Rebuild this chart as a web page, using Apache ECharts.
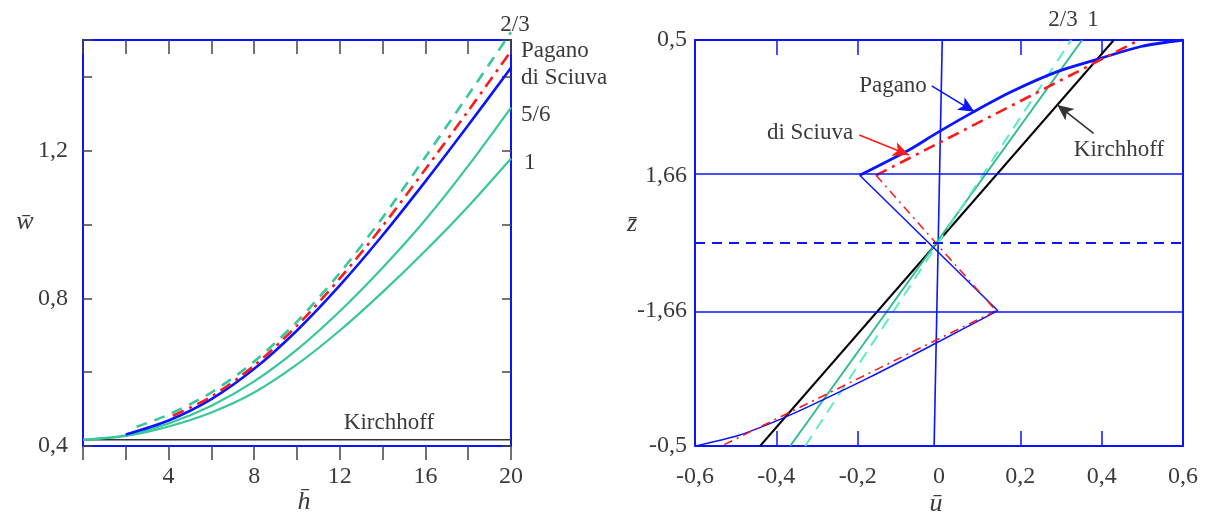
<!DOCTYPE html>
<html>
<head>
<meta charset="utf-8">
<script src="https://cdn.jsdelivr.net/npm/echarts@6/dist/echarts.min.js"></script>
<style>
html,body{margin:0;padding:0;background:#fff;}
#chart{width:1205px;height:517px;}
</style>
</head>
<body>
<div id="chart"></div>
<script>
// ---------- LEFT CHART DATA (h̄ vs w̄) ----------
const leftXTicks = [4, 8, 12, 16, 20];
const leftYTicks = [0.4, 0.8, 1.2];

const hKirch = [0, 20];
const wKirch = [0.417, 0.417];

const hTeal = [0, 2, 4, 6, 8, 10, 12, 14, 16, 18, 20];
const wOne = [0.417, 0.427, 0.453, 0.491, 0.545, 0.621, 0.713, 0.817, 0.929, 1.049, 1.179];
const wFiveSixth = [0.417, 0.429, 0.461, 0.509, 0.575, 0.661, 0.765, 0.883, 1.013, 1.159, 1.317];

const hPagano = [2, 4, 6, 8, 10, 12, 14, 16, 18, 20];
const wPagano = [0.431, 0.469, 0.527, 0.609, 0.713, 0.835, 0.971, 1.117, 1.269, 1.425];

const hSciuva = [4.2, 6, 8, 10, 12, 14, 16, 18, 20];
const wSciuva = [0.482, 0.534, 0.618, 0.726, 0.854, 0.996, 1.150, 1.308, 1.470];

const hTwoThird = [2.5, 4, 6, 8, 10, 12, 14, 16, 18, 20];
const wTwoThird = [0.452, 0.485, 0.545, 0.629, 0.737, 0.869, 1.019, 1.183, 1.351, 1.521];

// ---------- RIGHT CHART DATA (ū vs z̄) ----------
const rightXTicks = [-0.6, -0.4, -0.2, 0, 0.2, 0.4, 0.6];
const rightXInnerTicks = [-0.4, -0.2, 0.2, 0.4];
const rightYTickValues = [0.5, 1 / 6, -1 / 6, -0.5];
const rightYTickLabels = ['0,5', '1,66', '-1,66', '-0,5'];
const interfaceZ = [1 / 6, -1 / 6];
const midplaneZ = 0;

const uZeroLine = [0.008, -0.012];
const zZeroLine = [0.5, -0.5];

const uKirchR = [-0.44, 0.43];
const zKirchR = [-0.5, 0.5];

const uOneR = [-0.366, 0.352];
const zOneR = [-0.5, 0.5];

const uTwoThirdR = [-0.329, 0.325];
const zTwoThirdR = [-0.5, 0.5];

const uPaganoTop = [-0.195, -0.074, -0.007, 0.085, 0.179, 0.291, 0.385, 0.497, 0.6];
const zPaganoTop = [0.1667, 0.229, 0.270, 0.323, 0.373, 0.422, 0.451, 0.484, 0.5];
const uPaganoMid = [-0.195, 0.145];
const zPaganoMid = [0.1667, -0.1667];
const uPaganoBot = [0.145, -0.008, -0.175, -0.287, -0.385, -0.49, -0.6];
const zPaganoBot = [-0.1667, -0.247, -0.333, -0.387, -0.432, -0.473, -0.5];

const uSciuvaTop = [-0.155, 0.492];
const zSciuvaTop = [0.1667, 0.5];
const uSciuvaMid = [-0.155, 0.14];
const zSciuvaMid = [0.1667, -0.1667];
const uSciuvaBot = [0.14, -0.535];
const zSciuvaBot = [-0.1667, -0.5];

// annotation arrows: [fromU, fromZ, toU, toZ]
const arrowPagano = [-0.018, 0.387, 0.087, 0.323];
const arrowSciuva = [-0.196, 0.266, -0.074, 0.217];
const arrowKirch = [0.38, 0.27, 0.291, 0.34];

// ---------- helpers ----------
const pairs = (xs, ys) => xs.map((x, i) => [x, ys[i]]);
const comma = v => String(+v.toFixed(2)).replace('.', ',');

const FONT = "'Liberation Serif', 'DejaVu Serif', serif";
const TXT = '#3b3b3b';
const BLUE = '#0a14ff';
const RED = '#ff1a1a';
const TEAL = '#38c69b';
const TEAL_LIGHT = '#5debc8';
const TICK = '#444';

function lineSeries(name, data, xi, yi, color, width, type, extra) {
  return Object.assign({
    name, type: 'line', data, xAxisIndex: xi, yAxisIndex: yi,
    showSymbol: false, symbol: 'none', animation: false, silent: true,
    itemStyle: { color },
    lineStyle: { color, width, type: type || 'solid' }
  }, extra || {});
}

function arrow(a, color, curveness) {
  return [
    { coord: [a[0], a[1]], symbol: 'none',
      lineStyle: { color, width: 1.6, type: 'solid', curveness: curveness || 0 },
      itemStyle: { color } },
    { coord: [a[2], a[3]], symbol: 'arrow', symbolSize: [11, 16], itemStyle: { color } }
  ];
}

const chart = echarts.init(document.getElementById('chart'), null, { renderer: 'canvas' });

const labelStyle = { fontFamily: FONT, fontSize: 24, color: TXT };

const option = {
  backgroundColor: '#fff',
  animation: false,
  grid: [
    { left: 83, top: 40, width: 428, height: 406 },
    { left: 695, top: 40, width: 488, height: 406 }
  ],
  xAxis: [
    {
      gridIndex: 0, type: 'value', position: 'bottom', min: 0, max: 20, interval: 2,
      axisLine: { show: true, onZero: false, lineStyle: { color: BLUE, width: 2 } },
      axisTick: { show: true, inside: false, length: 14, lineStyle: { color: TICK, width: 1.5 } },
      axisLabel: Object.assign({ customValues: leftXTicks, margin: 19, formatter: v => comma(v) }, labelStyle),
      splitLine: { show: false }
    },
    {
      gridIndex: 0, type: 'value', position: 'top', min: 0, max: 20, interval: 2,
      axisLine: { show: true, onZero: false, lineStyle: { color: BLUE, width: 2 } },
      axisTick: { show: true, inside: true, length: 14, lineStyle: { color: TICK, width: 1.5 } },
      axisLabel: { show: false }, splitLine: { show: false }
    },
    {
      gridIndex: 1, type: 'value', position: 'bottom', min: -0.6, max: 0.6, interval: 0.2,
      axisLine: { show: true, onZero: false, lineStyle: { color: BLUE, width: 2 } },
      axisTick: { show: true, inside: true, length: 15, customValues: rightXInnerTicks, lineStyle: { color: BLUE, width: 1.5 } },
      axisLabel: Object.assign({ customValues: rightXTicks, margin: 19, formatter: v => comma(v) }, labelStyle),
      splitLine: { show: false }
    },
    {
      gridIndex: 1, type: 'value', position: 'top', min: -0.6, max: 0.6, interval: 0.2,
      axisLine: { show: true, onZero: false, lineStyle: { color: BLUE, width: 2 } },
      axisTick: { show: true, inside: true, length: 15, customValues: rightXInnerTicks, lineStyle: { color: BLUE, width: 1.5 } },
      axisLabel: { show: false }, splitLine: { show: false }
    }
  ],
  yAxis: [
    {
      gridIndex: 0, type: 'value', position: 'left', min: 0.4, max: 1.5, interval: 0.2,
      axisLine: { show: true, onZero: false, lineStyle: { color: BLUE, width: 2 } },
      axisTick: { show: true, inside: true, length: 9, lineStyle: { color: TICK, width: 1.5 } },
      axisLabel: Object.assign({ customValues: leftYTicks, margin: 15, formatter: v => comma(v) }, labelStyle),
      splitLine: { show: false }
    },
    {
      gridIndex: 0, type: 'value', position: 'right', min: 0.4, max: 1.5, interval: 0.2,
      axisLine: { show: true, onZero: false, lineStyle: { color: BLUE, width: 2 } },
      axisTick: { show: true, inside: true, length: 9, lineStyle: { color: TICK, width: 1.5 } },
      axisLabel: { show: false }, splitLine: { show: false }
    },
    {
      gridIndex: 1, type: 'value', position: 'left', min: -0.5, max: 0.5,
      axisLine: { show: true, onZero: false, lineStyle: { color: BLUE, width: 2 } },
      axisTick: { show: false },
      axisLabel: Object.assign({
        customValues: rightYTickValues, margin: 8,
        formatter: v => {
          let best = 0;
          rightYTickValues.forEach((t, i) => { if (Math.abs(t - v) < Math.abs(rightYTickValues[best] - v)) best = i; });
          return rightYTickLabels[best];
        }
      }, labelStyle),
      splitLine: { show: false }
    },
    {
      gridIndex: 1, type: 'value', position: 'right', min: -0.5, max: 0.5,
      axisLine: { show: true, onZero: false, lineStyle: { color: BLUE, width: 2 } },
      axisTick: { show: false }, axisLabel: { show: false }, splitLine: { show: false }
    }
  ],
  series: [
    // left chart
    lineSeries('Kirchhoff', pairs(hKirch, wKirch), 0, 0, '#333', 1.6),
    lineSeries('1', pairs(hTeal, wOne), 0, 0, TEAL, 2.2, 'solid', { smooth: 0.3 }),
    lineSeries('5/6', pairs(hTeal, wFiveSixth), 0, 0, TEAL, 2.2, 'solid', { smooth: 0.3 }),
    lineSeries('Pagano', pairs(hPagano, wPagano), 0, 0, BLUE, 2.6, 'solid', { smooth: 0.3 }),
    lineSeries('di Sciuva', pairs(hSciuva, wSciuva), 0, 0, RED, 2.6, [12, 6, 3, 6], { smooth: 0.3 }),
    lineSeries('2/3', pairs(hTwoThird, wTwoThird), 0, 0, TEAL, 2.6, [11, 8], { smooth: 0.3, clip: false }),

    // right chart
    lineSeries('zero', pairs(uZeroLine, zZeroLine), 2, 2, BLUE, 1.6, 'solid', {
      markLine: {
        silent: true, symbol: ['none', 'none'], animation: false, label: { show: false },
        lineStyle: { color: BLUE, width: 1.6, type: 'solid' },
        data: interfaceZ.map(z => ({ yAxis: z })).concat([
          { yAxis: midplaneZ, lineStyle: { color: BLUE, width: 2.2, type: [10, 7] } }
        ])
      }
    }),
    lineSeries('Kirchhoff R', pairs(uKirchR, zKirchR), 2, 2, '#000', 2),
    lineSeries('1 R', pairs(uOneR, zOneR), 2, 2, '#33bb90', 2),
    lineSeries('2/3 R', pairs(uTwoThirdR, zTwoThirdR), 2, 2, TEAL_LIGHT, 2, [12, 8]),
    lineSeries('Pagano top', pairs(uPaganoTop, zPaganoTop), 2, 2, BLUE, 2.8, 'solid', { smooth: 0.3 }),
    lineSeries('Pagano mid', pairs(uPaganoMid, zPaganoMid), 2, 2, BLUE, 1.5),
    lineSeries('Pagano bot', pairs(uPaganoBot, zPaganoBot), 2, 2, BLUE, 1.5, 'solid', { smooth: 0.3 }),
    lineSeries('Sciuva top', pairs(uSciuvaTop, zSciuvaTop), 2, 2, RED, 2.6, [12, 6, 3, 6]),
    lineSeries('Sciuva mid', pairs(uSciuvaMid, zSciuvaMid), 2, 2, RED, 1.5, [9, 5, 2, 5]),
    lineSeries('Sciuva bot', pairs(uSciuvaBot, zSciuvaBot), 2, 2, RED, 1.6, [9, 5, 2, 5]),
    {
      name: 'arrows', type: 'line', data: [], xAxisIndex: 2, yAxisIndex: 2, silent: true, animation: false,
      markLine: {
        silent: true, animation: false, symbol: ['none', 'arrow'], symbolSize: 14,
        label: { show: false },
        data: [
          arrow(arrowPagano, BLUE, 0),
          arrow(arrowSciuva, RED, 0.4),
          arrow(arrowKirch, '#333', 0)
        ]
      }
    }
  ]
};

chart.setOption(option);

function txt(text, x, y, align, opts) {
  opts = opts || {};
  return {
    type: 'text', x, y, silent: true,
    style: {
      text, fill: TXT, align: align || 'center', verticalAlign: 'middle',
      font: (opts.italic ? 'italic ' : '') + (opts.size || 23) + 'px ' + FONT
    }
  };
}

chart.setOption({
  graphic: [
    // left chart annotations
    txt('2/3', 515, 25),
    txt('Pagano', 521, 51, 'left'),
    txt('di Sciuva', 521, 78, 'left'),
    txt('5/6', 521, 115, 'left'),
    txt('1', 524, 163, 'left'),
    txt('Kirchhoff', 389, 423),
    txt('w\u0304', 25, 222, 'center', { italic: true, size: 26 }),
    txt('h\u0304', 304, 502, 'center', { italic: true, size: 26 }),
    // right chart annotations
    txt('2/3', 1063, 20),
    txt('1', 1093, 20),
    txt('Pagano', 893, 86),
    txt('di Sciuva', 810, 133),
    txt('Kirchhoff', 1119, 150),
    txt('z\u0304', 632, 224, 'center', { italic: true, size: 26 }),
    txt('u\u0304', 936, 504, 'center', { italic: true, size: 26 })
  ]
});
</script>
</body>
</html>
